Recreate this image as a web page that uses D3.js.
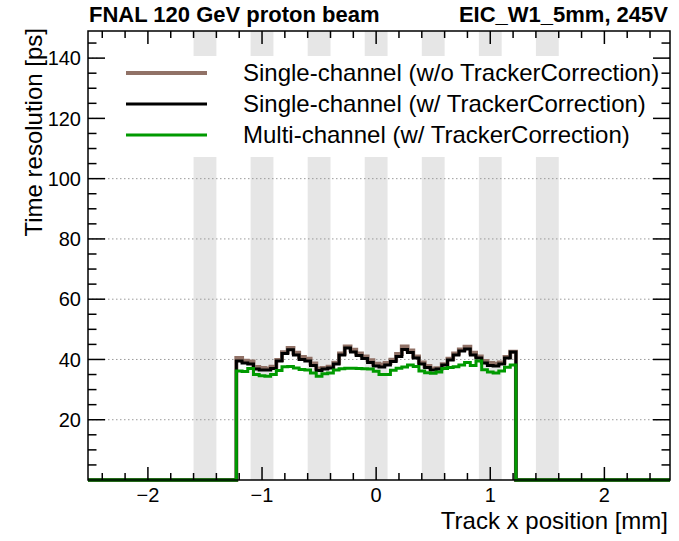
<!DOCTYPE html>
<html>
<head>
<meta charset="utf-8">
<script src="https://cdn.jsdelivr.net/npm/d3@7"></script>
<style>
  body { margin: 0; background: #fff; }
  text { font-family: "Liberation Sans", Arial, Helvetica, sans-serif; }
</style>
</head>
<body>
<div id="chart"></div>
<script>
// histogram: 0.05 mm bins, only bins from -1.225 to 1.225 are filled
var xRange = [-2.525, 2.575];
var firstBinLow = -1.225;
var binWidth = 0.05;

// single-channel, without tracker correction
var singleNoCorr = [40.5,39.6,39.3,37.5,37.2,37.0,37.6,39.8,42.4,43.8,42.2,40.8,40.2,38.7,37.0,37.2,37.6,38.9,42.0,44.3,
                    43.2,42.0,41.0,39.7,38.6,38.3,38.8,39.9,41.8,44.3,43.0,41.0,39.0,37.8,37.0,37.1,38.4,40.2,42.0,43.3,
                    44.2,42.2,41.0,39.5,38.8,38.6,39.0,40.8,42.6];
// single-channel, with tracker correction
var singleCorr   = [39.5,38.8,38.5,36.8,36.5,36.5,37.0,39.5,42.0,43.2,41.5,40.0,39.5,38.0,36.3,36.8,37.2,38.5,41.5,43.8,
                    42.5,41.3,40.3,39.0,37.8,37.5,38.2,39.3,41.0,43.3,42.3,40.5,38.5,37.3,36.5,36.8,38.2,39.8,41.5,42.8,
                    43.5,41.5,40.5,38.8,38.0,37.8,38.5,40.5,42.5];
// multi-channel, with tracker correction
var multiCorr    = [36.2,36.0,37.0,35.0,34.6,34.4,35.0,36.3,37.6,37.7,37.2,36.7,36.5,35.5,34.4,35.3,35.5,36.5,36.9,37.1,
                    37.1,37.0,36.9,36.8,36.1,35.0,35.0,36.4,37.1,37.5,38.2,37.7,36.2,35.6,35.4,35.8,37.0,37.3,37.6,38.2,
                    39.0,38.0,39.5,36.6,35.8,35.5,36.2,37.4,38.2];

// shaded strips (centre, mm)
var stripCenters = [-1.5, -1, -0.5, 0, 0.5, 1, 1.5];
var stripHalfWidth = 0.1;

var xTicks = [-2, -1, 0, 1, 2];
var xMinorTicks = [-2.4,-2.2,-1.8,-1.6,-1.4,-1.2,-0.8,-0.6,-0.4,-0.2,0.2,0.4,0.6,0.8,1.2,1.4,1.6,1.8,2.2,2.4];
var yTicks = [20, 40, 60, 80, 100, 120, 140];
var yMinorTicks = [5,10,15,25,30,35,45,50,55,65,70,75,85,90,95,105,110,115,125,130,135,145];
var yGrid = [20, 40, 60, 80, 100, 120, 140];

var series = [
  {name: "Single-channel (w/o TrackerCorrection)", values: singleNoCorr, color: "#917267", width: 4},
  {name: "Single-channel (w/ TrackerCorrection)",  values: singleCorr,   color: "#000000", width: 3},
  {name: "Multi-channel (w/ TrackerCorrection)",   values: multiCorr,    color: "#009a00", width: 3}
];

var W = 679, H = 541;
var frameL = 88, frameR = 670, frameT = 31, frameB = 480;

var svg = d3.select("#chart").append("svg")
    .attr("width", W)
    .attr("height", H);

var x = d3.scaleLinear().domain(xRange).range([frameL, frameR]);
var y = d3.scaleLinear().domain([0, 149]).range([frameB, frameT]);

// gray strips
svg.selectAll(".strip")
    .data(stripCenters)
    .enter()
    .append("rect")
    .attr("x", function(d) { return x(d - stripHalfWidth); })
    .attr("y", frameT)
    .attr("width", function(d) { return x(d + stripHalfWidth) - x(d - stripHalfWidth); })
    .attr("height", frameB - frameT)
    .attr("fill", "#e6e6e6");

// dotted grid
svg.selectAll(".grid")
    .data(yGrid)
    .enter()
    .append("line")
    .attr("x1", frameL).attr("x2", frameR)
    .attr("y1", function(d) { return y(d); })
    .attr("y2", function(d) { return y(d); })
    .attr("stroke", "#9a9a9a")
    .attr("stroke-width", 1)
    .attr("stroke-dasharray", "1.5,2.5");

// step lines
function histPoints(vals) {
  var pts = [[xRange[0], 0]];
  vals.forEach(function(v, i) { pts.push([firstBinLow + i * binWidth, v]); });
  pts.push([firstBinLow + vals.length * binWidth, 0]);
  pts.push([xRange[1], 0]);
  return pts;
}
var line = d3.line()
    .x(function(d) { return x(d[0]); })
    .y(function(d) { return y(d[1]); })
    .curve(d3.curveStepAfter);

series.forEach(function(s) {
  svg.append("path")
      .attr("d", line(histPoints(s.values)))
      .attr("fill", "none")
      .attr("stroke", s.color)
      .attr("stroke-width", s.width)
      .attr("stroke-linejoin", "miter");
});

// legend
var legTop = 56, legBottom = 157;
svg.append("rect")
    .attr("x", frameL + 12).attr("y", legTop)
    .attr("width", frameR - frameL - 16).attr("height", legBottom - legTop)
    .attr("fill", "#fff");

var rowY = [73, 104, 135];
series.forEach(function(s, i) {
  svg.append("line")
      .attr("x1", 126).attr("x2", 207)
      .attr("y1", rowY[i]).attr("y2", rowY[i])
      .attr("stroke", s.color)
      .attr("stroke-width", s.width);
  svg.append("text")
      .attr("x", 243).attr("y", rowY[i])
      .attr("dy", "0.35em")
      .style("font-size", "24px")
      .text(s.name);
});

// frame
svg.append("rect")
    .attr("x", frameL).attr("y", frameT)
    .attr("width", frameR - frameL).attr("height", frameB - frameT)
    .attr("fill", "none")
    .attr("stroke", "#000")
    .attr("stroke-width", 1.5);

// ticks
var xMajorLen = 13, xMinorLen = 7, yMajorLen = 17, yMinorLen = 8.5;
function tickLines(vals, len, horizontal) {
  vals.forEach(function(v) {
    if (horizontal) {
      svg.append("line").attr("x1", x(v)).attr("x2", x(v))
         .attr("y1", frameB).attr("y2", frameB - len)
         .attr("stroke", "#000").attr("stroke-width", 1.5);
      svg.append("line").attr("x1", x(v)).attr("x2", x(v))
         .attr("y1", frameT).attr("y2", frameT + len)
         .attr("stroke", "#000").attr("stroke-width", 1.5);
    } else {
      svg.append("line").attr("x1", frameL).attr("x2", frameL + len)
         .attr("y1", y(v)).attr("y2", y(v))
         .attr("stroke", "#000").attr("stroke-width", 1.5);
      svg.append("line").attr("x1", frameR).attr("x2", frameR - len)
         .attr("y1", y(v)).attr("y2", y(v))
         .attr("stroke", "#000").attr("stroke-width", 1.5);
    }
  });
}
tickLines(xTicks, xMajorLen, true);
tickLines(xMinorTicks, xMinorLen, true);
tickLines(yTicks, yMajorLen, false);
tickLines(yMinorTicks, yMinorLen, false);

// tick labels
svg.selectAll(".xl")
    .data(xTicks)
    .enter()
    .append("text")
    .attr("x", function(d) { return x(d); })
    .attr("y", 502)
    .attr("text-anchor", "middle")
    .style("font-size", "20px")
    .text(function(d) { return d < 0 ? "\u2212" + Math.abs(d) : d; });

svg.selectAll(".yl")
    .data(yTicks)
    .enter()
    .append("text")
    .attr("x", 81)
    .attr("y", function(d) { return y(d); })
    .attr("dy", "0.36em")
    .attr("text-anchor", "end")
    .style("font-size", "20px")
    .text(function(d) { return d; });

// axis titles
svg.append("text")
    .attr("x", 668).attr("y", 529)
    .attr("text-anchor", "end")
    .style("font-size", "24px")
    .text("Track x position [mm]");

svg.append("text")
    .attr("transform", "translate(42,28) rotate(-90)")
    .attr("text-anchor", "end")
    .style("font-size", "24px")
    .text("Time resolution [ps]");

// header
svg.append("text")
    .attr("x", 89).attr("y", 22)
    .style("font-size", "22px")
    .style("font-weight", "bold")
    .text("FNAL 120 GeV proton beam");
svg.append("text")
    .attr("x", 668).attr("y", 22)
    .attr("text-anchor", "end")
    .style("font-size", "22px")
    .style("font-weight", "bold")
    .text("EIC_W1_5mm, 245V");
</script>
</body>
</html>
